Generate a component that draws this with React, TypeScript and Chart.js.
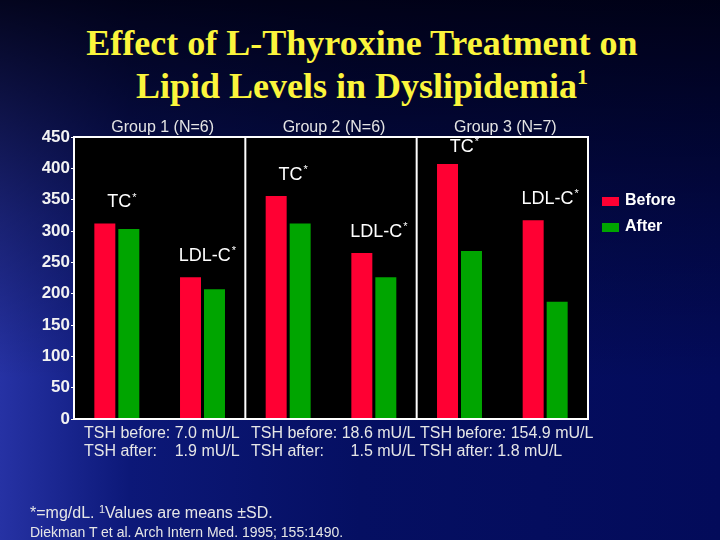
import React, { useEffect, useRef } from "react"
import { Chart, registerables } from "chart.js"

Chart.register(...registerables)

const categories = ["TC", "LDL-C", "TC", "LDL-C", "TC", "LDL-C"]
const groups = ["Group 1 (N=6)", "Group 2 (N=6)", "Group 3 (N=7)"]
const seriesNames = ["Before", "After"]
const beforeValues = [312, 226, 356, 265, 407, 317]
const afterValues = [303, 207, 312, 226, 268, 187]
const tshBefore = ["7.0", "18.6", "154.9"]
const tshAfter = ["1.9", "1.5", "1.8"]

const SANS = "'Liberation Sans', Arial, sans-serif"
const colors = ["#ff0033", "#00a500"]

// black plot box, white frame, group dividers, bar captions and the legend
const slidePlugin = {
  id: "slide",
  beforeDraw(chart: any) {
    const { ctx, chartArea: a } = chart
    ctx.save()
    ctx.fillStyle = "#000"
    ctx.fillRect(a.left, a.top, a.right - a.left, a.bottom - a.top)
    ctx.restore()
  },
  afterDatasetsDraw(chart: any) {
    const { ctx, chartArea: a, scales } = chart
    const x = scales.x
    const y = scales.y
    ctx.save()
    ctx.strokeStyle = "#fff"
    ctx.lineWidth = 2
    for (let g = 1; g < groups.length; g++) {
      const px = (x.getPixelForValue(g * 2 - 1) + x.getPixelForValue(g * 2)) / 2
      ctx.beginPath()
      ctx.moveTo(px, a.top)
      ctx.lineTo(px, a.bottom)
      ctx.stroke()
    }
    ctx.strokeRect(a.left, a.top, a.right - a.left, a.bottom - a.top)

    ctx.textBaseline = "middle"
    ctx.textAlign = "center"
    ctx.font = `16px ${SANS}`
    ctx.fillStyle = "#e4e4e4"
    groups.forEach((g, i) => {
      const cx = (x.getPixelForValue(i * 2) + x.getPixelForValue(i * 2 + 1)) / 2 + 3
      ctx.fillText(g, cx, a.top - 9)
    })

    ctx.textAlign = "left"
    ctx.fillStyle = "#fff"
    categories.forEach((c, i) => {
      const ty = Math.max(y.getPixelForValue(Math.max(beforeValues[i], afterValues[i])) - 21, a.top + 10)
      ctx.font = `18px ${SANS}`
      const w = ctx.measureText(c).width
      ctx.font = `11px ${SANS}`
      const sw = ctx.measureText("*").width
      const left = x.getPixelForValue(i) + 5 - (w + sw + 1) / 2
      ctx.font = `18px ${SANS}`
      ctx.fillText(c, left, ty)
      ctx.font = `11px ${SANS}`
      ctx.fillText("*", left + w + 1, ty - 5)
    })

    ctx.font = `bold 16px ${SANS}`
    chart.data.datasets.forEach((ds: any, i: number) => {
      const ly = a.top + 64 + i * 26
      ctx.fillStyle = ds.backgroundColor
      ctx.fillRect(a.right + 14, ly - 4, 17, 9)
      ctx.fillStyle = "#fff"
      ctx.fillText(ds.label, a.right + 37, ly)
    })
    ctx.restore()
  },
}

const App: React.FC = () => {
  const chartRef = useRef<HTMLCanvasElement>(null)
  const chartInstanceRef = useRef<Chart | null>(null)

  useEffect(() => {
    document.body.style.margin = "0"
    const ctx = chartRef.current?.getContext("2d")

    if (ctx) {
      chartInstanceRef.current = new Chart(ctx, {
        type: "bar",
        data: {
          labels: categories,
          datasets: [
            {
              label: seriesNames[0],
              data: beforeValues,
              backgroundColor: colors[0],
              categoryPercentage: 0.56,
              barPercentage: 0.875,
            },
            {
              label: seriesNames[1],
              data: afterValues,
              backgroundColor: colors[1],
              categoryPercentage: 0.56,
              barPercentage: 0.875,
            },
          ],
        },
        options: {
          responsive: false,
          animation: false,
          layout: { padding: { left: 30, right: 132, top: 137, bottom: 121 } },
          plugins: {
            legend: { display: false },
            tooltip: { enabled: false },
          },
          scales: {
            x: {
              ticks: { display: false },
              grid: { display: false },
              border: { display: false },
              afterFit: (axis: any) => {
                axis.height = 0
              },
            },
            y: {
              min: 0,
              max: 450,
              ticks: {
                stepSize: 50,
                color: "#f2f2f2",
                padding: 1,
                font: { family: SANS, size: 17, weight: "bold" },
              },
              grid: { drawOnChartArea: false, tickLength: 3, color: "#fff" },
              border: { color: "#fff", width: 2 },
              afterFit: (axis: any) => {
                axis.width = 44
              },
            },
          },
        },
        plugins: [slidePlugin],
      })
    }

    return () => {
      chartInstanceRef.current?.destroy()
    }
  }, [])

  return (
    <div
      style={{
        position: "absolute",
        left: 0,
        top: 0,
        width: 720,
        height: 540,
        overflow: "hidden",
        fontFamily: SANS,
        background:
          "linear-gradient(to bottom, rgba(0,0,16,0.9) 0%, rgba(0,0,16,0.35) 40%, rgba(0,0,16,0) 70%), linear-gradient(to right, #2632a4 0%, #0c1878 18%, #050f62 50%, #030b5a 100%)",
      }}
    >
      <div
        style={{
          position: "absolute",
          left: 0,
          top: 22,
          width: 724,
          textAlign: "center",
          fontFamily: "'Liberation Serif', 'Times New Roman', serif",
          fontWeight: "bold",
          fontSize: 36,
          lineHeight: "43px",
          color: "#fbf53c",
        }}
      >
        Effect of L-Thyroxine Treatment on
        <br />
        Lipid Levels in Dyslipidemia
        <sup style={{ fontSize: 22, verticalAlign: 0, position: "relative", top: -14 }}>1</sup>
      </div>
      <canvas ref={chartRef} width={720} height={540} style={{ position: "absolute", left: 0, top: 0 }} />
      {tshBefore.map((b, i) => (
        <div
          key={i}
          style={{
            position: "absolute",
            left: [84, 251, 420][i],
            top: 424,
            fontSize: 16,
            lineHeight: "18px",
            color: "#e6e6e6",
            whiteSpace: "pre",
          }}
        >
          <div>{`TSH before: ${b} mU/L`}</div>
          {i < tshBefore.length - 1 ? (
            <div style={{ display: "flex", justifyContent: "space-between" }}>
              <span>TSH after:</span>
              <span>{`${tshAfter[i]} mU/L`}</span>
            </div>
          ) : (
            <div>{`TSH after: ${tshAfter[i]} mU/L`}</div>
          )}
        </div>
      ))}
      <div style={{ position: "absolute", left: 30, top: 504, fontSize: 16, lineHeight: "18px", color: "#e6e6e6" }}>
        *=mg/dL. <sup style={{ fontSize: 11, verticalAlign: 0, position: "relative", top: -5 }}>1</sup>Values are means ±SD.
      </div>
      <div style={{ position: "absolute", left: 30, top: 524, fontSize: 14, lineHeight: "16px", color: "#e6e6e6" }}>
        Diekman T et al. Arch Intern Med. 1995; 155:1490.
      </div>
    </div>
  )
}

export default App
